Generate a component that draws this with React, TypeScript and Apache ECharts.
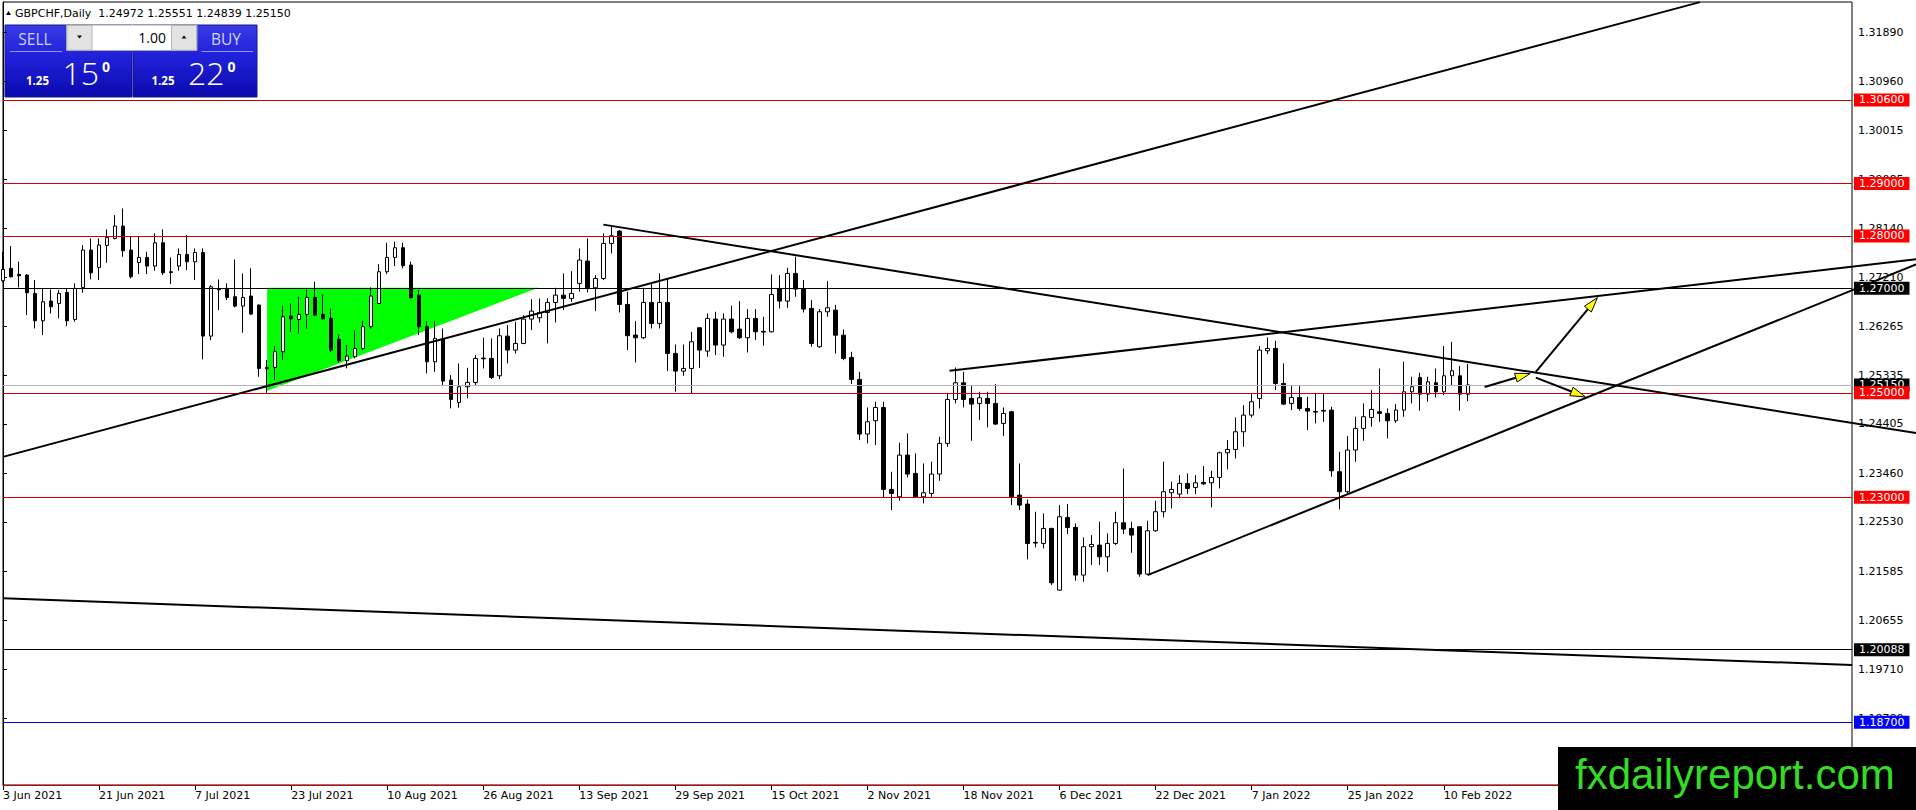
import { useEffect, useRef } from 'react';
import * as echarts from 'echarts';

const SYMBOL = 'GBPCHF,Daily';
const LAST_QUOTE = [1.24972, 1.25551, 1.24839, 1.2515];
const SELL_QUOTE = ['1.25', '15', '0'];
const BUY_QUOTE = ['1.25', '22', '0'];
const LOT = '1.00';

// one label every 12 daily bars, starting with the first bar (3 Jun 2021)
const DATE_LABELS = [
  '3 Jun 2021', '21 Jun 2021', '7 Jul 2021', '23 Jul 2021', '10 Aug 2021', '26 Aug 2021',
  '13 Sep 2021', '29 Sep 2021', '15 Oct 2021', '2 Nov 2021', '18 Nov 2021', '6 Dec 2021',
  '22 Dec 2021', '7 Jan 2022', '25 Jan 2022', '10 Feb 2022',
];
const LABEL_STEP = 12;
const SLOT_COUNT = 232; // bar slots across the chart, empty ones on the right

const PRICE_TICKS = [
  1.3189, 1.3096, 1.30015, 1.29085, 1.2814, 1.2721, 1.26265, 1.25335, 1.24405,
  1.2346, 1.2253, 1.21585, 1.20655, 1.1971, 1.1878,
];
const PRICE_MIN = 1.175;
const PRICE_MAX = 1.32472;

const RED_LEVELS = [1.306, 1.29, 1.28, 1.25, 1.23];
const BLACK_LEVELS = [1.27, 1.20088];
const BLUE_LEVELS = [1.187];
const BID = 1.2515;
const FLOOR_LEVEL = 1.175;

// daily bars: [open, high, low, close]
const OHLC: [number, number, number, number][] = [
  [1.27142, 1.27696, 1.27123, 1.27358], [1.27378, 1.27805, 1.27205, 1.27218], [1.27263, 1.27505, 1.27014, 1.27237],
  [1.2725, 1.27269, 1.26485, 1.26912], [1.269, 1.27154, 1.2623, 1.26377], [1.26377, 1.26995, 1.26103, 1.2674],
  [1.26753, 1.26976, 1.26517, 1.26645], [1.26708, 1.26963, 1.26422, 1.269], [1.26919, 1.26995, 1.26275, 1.26377],
  [1.26402, 1.27091, 1.26358, 1.26995], [1.27014, 1.27824, 1.26912, 1.27728], [1.27728, 1.27951, 1.27167, 1.27295],
  [1.27397, 1.27951, 1.27154, 1.27824], [1.27817, 1.28123, 1.27486, 1.2797], [1.27951, 1.28397, 1.27932, 1.28187],
  [1.28187, 1.28525, 1.27601, 1.27715], [1.27728, 1.27983, 1.27186, 1.27218], [1.27492, 1.27983, 1.27269, 1.27588],
  [1.27588, 1.27696, 1.27269, 1.27422], [1.27422, 1.28047, 1.27333, 1.27868], [1.27868, 1.28123, 1.2725, 1.27295],
  [1.27314, 1.27588, 1.27078, 1.27301], [1.27422, 1.2776, 1.27333, 1.27645], [1.27645, 1.28015, 1.27346, 1.27505],
  [1.27505, 1.2776, 1.27154, 1.27683], [1.27683, 1.2776, 1.25638, 1.26084], [1.26084, 1.27059, 1.26007, 1.27027],
  [1.26982, 1.27167, 1.26581, 1.2697], [1.26995, 1.27091, 1.26772, 1.26823], [1.26836, 1.2755, 1.26632, 1.26657],
  [1.26657, 1.27282, 1.26148, 1.26823], [1.26849, 1.27378, 1.26485, 1.26504], [1.26677, 1.2669, 1.25306, 1.25466],
  [1.25485, 1.25625, 1.25, 1.25459], [1.25485, 1.25893, 1.25243, 1.25784], [1.25784, 1.26657, 1.25625, 1.26453],
  [1.26466, 1.26708, 1.26167, 1.26415], [1.26402, 1.26836, 1.26135, 1.26498], [1.26498, 1.26963, 1.2623, 1.26823],
  [1.26823, 1.27123, 1.26466, 1.26485], [1.26498, 1.26887, 1.26402, 1.26415], [1.26422, 1.26613, 1.25784, 1.25816],
  [1.2602, 1.26122, 1.25574, 1.25612], [1.25612, 1.25912, 1.25466, 1.25701], [1.25689, 1.26186, 1.25657, 1.25848],
  [1.25848, 1.26377, 1.25816, 1.26262], [1.26262, 1.27014, 1.2623, 1.26849], [1.26708, 1.2746, 1.26696, 1.27314],
  [1.27314, 1.27868, 1.27269, 1.27588], [1.27588, 1.27887, 1.27422, 1.27773], [1.27773, 1.27868, 1.27378, 1.27429],
  [1.27441, 1.27505, 1.26804, 1.26816], [1.26867, 1.26963, 1.26103, 1.26262], [1.26262, 1.2637, 1.2537, 1.25593],
  [1.25593, 1.2637, 1.25402, 1.26039], [1.26039, 1.2623, 1.25134, 1.25223], [1.25242, 1.25338, 1.24701, 1.24873],
  [1.24815, 1.25561, 1.24713, 1.25115], [1.25115, 1.25478, 1.24892, 1.25198], [1.25198, 1.2572, 1.25134, 1.25657],
  [1.25663, 1.26052, 1.25465, 1.2565], [1.25657, 1.26039, 1.25262, 1.25293], [1.25325, 1.2623, 1.25262, 1.2609],
  [1.26083, 1.26294, 1.25561, 1.25816], [1.25816, 1.26358, 1.25752, 1.25943], [1.25943, 1.26485, 1.2593, 1.26409],
  [1.26409, 1.26791, 1.26198, 1.26562], [1.26434, 1.26804, 1.26345, 1.26536], [1.26536, 1.26804, 1.25943, 1.26727],
  [1.26727, 1.27008, 1.26345, 1.26867], [1.26867, 1.27282, 1.26581, 1.26804], [1.26804, 1.27326, 1.2674, 1.26899],
  [1.27091, 1.2776, 1.26931, 1.27537], [1.27518, 1.27951, 1.26918, 1.27008], [1.27008, 1.2725, 1.26562, 1.27186],
  [1.27186, 1.28046, 1.27154, 1.27855], [1.27855, 1.28174, 1.27664, 1.28002], [1.28091, 1.2811, 1.26536, 1.26689],
  [1.26689, 1.26931, 1.25816, 1.2609], [1.26103, 1.2637, 1.2558, 1.26052], [1.26052, 1.27008, 1.26026, 1.26727],
  [1.26727, 1.27091, 1.2623, 1.26326], [1.26326, 1.27282, 1.2623, 1.26727], [1.26727, 1.27186, 1.25414, 1.25752],
  [1.25752, 1.25924, 1.25019, 1.25414], [1.25414, 1.25924, 1.25325, 1.25465], [1.25465, 1.26166, 1.24987, 1.25975],
  [1.26243, 1.26256, 1.25478, 1.25816], [1.25797, 1.26517, 1.25688, 1.26421], [1.26409, 1.26549, 1.2572, 1.25912],
  [1.25912, 1.26517, 1.25688, 1.26409], [1.26409, 1.26664, 1.26135, 1.26166], [1.26217, 1.26753, 1.26026, 1.26052],
  [1.26052, 1.266, 1.25771, 1.26421], [1.26421, 1.266, 1.26007, 1.26166], [1.26173, 1.26453, 1.25899, 1.2616],
  [1.26166, 1.27263, 1.26153, 1.2688], [1.26995, 1.2725, 1.26613, 1.26753], [1.26753, 1.2739, 1.26625, 1.27282],
  [1.27282, 1.276, 1.26836, 1.26982], [1.26982, 1.27154, 1.26536, 1.266], [1.26613, 1.26772, 1.2588, 1.25943],
  [1.2588, 1.266, 1.25861, 1.26549], [1.26549, 1.27135, 1.26453, 1.26625], [1.2658, 1.2668, 1.25752, 1.26102],
  [1.26102, 1.2621, 1.25624, 1.25656], [1.25675, 1.25784, 1.25166, 1.25255], [1.25255, 1.25401, 1.24095, 1.2421],
  [1.2421, 1.24719, 1.24031, 1.24445], [1.24465, 1.24828, 1.23999, 1.24719], [1.24719, 1.24828, 1.22999, 1.23152],
  [1.23152, 1.23489, 1.22757, 1.23075], [1.23011, 1.24044, 1.22935, 1.23808], [1.23808, 1.24222, 1.23381, 1.23445],
  [1.23458, 1.2384, 1.2299, 1.23011], [1.23011, 1.23649, 1.22884, 1.23088], [1.23075, 1.23681, 1.23011, 1.23445],
  [1.23445, 1.24159, 1.23317, 1.24031], [1.24031, 1.25, 1.23967, 1.24872], [1.24872, 1.25484, 1.24796, 1.25191],
  [1.25191, 1.25401, 1.24719, 1.24872], [1.24892, 1.25127, 1.24082, 1.24783], [1.24796, 1.25019, 1.24477, 1.24904],
  [1.24892, 1.25019, 1.24337, 1.24796], [1.24796, 1.25166, 1.24382, 1.24401], [1.24414, 1.24719, 1.24171, 1.24605],
  [1.24637, 1.24656, 1.22852, 1.23011], [1.23043, 1.23649, 1.22757, 1.22852], [1.22871, 1.22961, 1.21813, 1.22119],
  [1.22138, 1.22725, 1.22043, 1.22126], [1.22119, 1.22693, 1.22024, 1.22406], [1.22406, 1.22419, 1.21323, 1.21367],
  [1.21227, 1.22852, 1.21214, 1.22629], [1.22616, 1.22871, 1.22298, 1.22425], [1.22425, 1.22502, 1.21405, 1.21514],
  [1.21514, 1.22234, 1.21386, 1.22056], [1.22056, 1.22279, 1.21705, 1.221], [1.22087, 1.22534, 1.21705, 1.21864],
  [1.21864, 1.2231, 1.21578, 1.22119], [1.22119, 1.22725, 1.22087, 1.22514], [1.22514, 1.23553, 1.22298, 1.22393],
  [1.22406, 1.22534, 1.21941, 1.22279], [1.22438, 1.22451, 1.21482, 1.21533], [1.21533, 1.22553, 1.21514, 1.22361],
  [1.22361, 1.22935, 1.22342, 1.22725], [1.22725, 1.23681, 1.22616, 1.23107], [1.23088, 1.23298, 1.22788, 1.23152],
  [1.23063, 1.23426, 1.2298, 1.23266], [1.23266, 1.23458, 1.23063, 1.23171], [1.2319, 1.23426, 1.23063, 1.23279],
  [1.23285, 1.23598, 1.23234, 1.2326], [1.23279, 1.23509, 1.22808, 1.23381], [1.23381, 1.23872, 1.23171, 1.23853],
  [1.23853, 1.24095, 1.23534, 1.23916], [1.23916, 1.24528, 1.23744, 1.24254], [1.24254, 1.24764, 1.23967, 1.24573],
  [1.24573, 1.24987, 1.24528, 1.24828], [1.24892, 1.25892, 1.247, 1.25816], [1.25803, 1.26058, 1.25739, 1.25848],
  [1.25848, 1.25994, 1.25051, 1.25178], [1.25178, 1.25561, 1.24764, 1.24783], [1.24796, 1.25127, 1.24669, 1.24911],
  [1.24911, 1.25127, 1.24656, 1.247], [1.247, 1.24923, 1.24286, 1.24649], [1.24643, 1.25, 1.24414, 1.2463],
  [1.24662, 1.24974, 1.24445, 1.24649], [1.24669, 1.24732, 1.23394, 1.23509], [1.2349, 1.23872, 1.22769, 1.23107],
  [1.23107, 1.24171, 1.23075, 1.23904], [1.23904, 1.24541, 1.23681, 1.24318], [1.24318, 1.24796, 1.24082, 1.24541],
  [1.24528, 1.25051, 1.2435, 1.24681], [1.24637, 1.25465, 1.24445, 1.24605], [1.24605, 1.247, 1.24127, 1.24465],
  [1.24465, 1.24783, 1.24426, 1.24669], [1.24669, 1.25593, 1.24541, 1.25019], [1.25019, 1.25306, 1.24796, 1.25115],
  [1.25293, 1.25382, 1.24656, 1.24974], [1.24974, 1.25306, 1.24828, 1.2521], [1.25191, 1.25465, 1.24911, 1.25019],
  [1.25019, 1.25892, 1.24955, 1.25325], [1.25325, 1.25975, 1.25147, 1.25421], [1.25325, 1.2551, 1.24656, 1.24974],
  [1.24972, 1.25551, 1.24839, 1.2515],
];

// trend lines as [bar1, price1, bar2, price2]
const TREND_LINES: number[][] = [
  [0, 1.23774, 212, 1.3247],
  [0, 1.2107, 231, 1.19794],
  [75, 1.28215, 239, 1.24229],
  [118.25, 1.2542, 239, 1.27554],
  [143, 1.21514, 239, 1.27454],
];
const ARROWS: number[][] = [
  [185.1, 1.2511, 190.8, 1.2537],
  [191.5, 1.254, 199.2, 1.2682],
  [191.5, 1.2529, 197.7, 1.2492],
];
const TRIANGLE: number[][] = [[33, 1.2701], [33, 1.2504], [66.9, 1.2701]];

const FONT = 'DejaVu Sans';
const PANEL_FONT = 'Open Sans';

const isLabelSlot = (i: number) => i % LABEL_STEP === 0 && i / LABEL_STEP < DATE_LABELS.length;

function panelFill() {
  return new echarts.graphic.LinearGradient(0, 0, 0, 1, [
    { offset: 0, color: '#3a3ae4' },
    { offset: 0.4, color: '#2222dc' },
    { offset: 1, color: '#0a0aae' },
  ]);
}

function quoteTexts(x: number, quote: string[]) {
  return [
    { type: 'text', x, y: 80, style: { text: quote[0], fill: '#fff', fontFamily: PANEL_FONT, fontSize: 11.5, fontWeight: 'bold', verticalAlign: 'middle' } },
    { type: 'text', x: x + 36.5, y: 72.8, style: { text: quote[1], fill: '#fff', fontFamily: PANEL_FONT, fontSize: 32, fontWeight: 300, verticalAlign: 'middle' } },
    { type: 'text', x: x + 76, y: 66.4, style: { text: quote[2], fill: '#fff', fontFamily: PANEL_FONT, fontSize: 14, fontWeight: 'bold', verticalAlign: 'middle' } },
  ];
}

function levelLine(value: number, lineColor: string, boxColor: string | null) {
  return {
    yAxis: value,
    lineStyle: { color: lineColor, width: 1, type: 'solid' },
    label: boxColor
      ? { show: true, backgroundColor: boxColor }
      : { show: false },
  };
}

export default function App() {
  const chartRef = useRef<HTMLDivElement>(null);

  useEffect(() => {
    if (!chartRef.current) return;
    const chart = echarts.init(chartRef.current, undefined, { renderer: 'svg' });

    const slots = Array.from({ length: SLOT_COUNT }, (_, i) => String(i));
    const candles = OHLC.map(([o, h, l, c]) => [o, c, l, h]);
    const header = `${SYMBOL}  ${LAST_QUOTE.map((v) => v.toFixed(5)).join(' ')}`;

    chart.setOption({
      animation: false,
      backgroundColor: '#fff',
      grid: { left: 2, right: 64, top: 2, bottom: 25, show: true, borderColor: '#000', borderWidth: 1, backgroundColor: '#fff' },
      xAxis: [
        {
          type: 'category',
          data: slots,
          boundaryGap: false,
          axisLine: { lineStyle: { color: '#000', width: 1 } },
          axisTick: { interval: isLabelSlot, length: 5, lineStyle: { color: '#000' } },
          axisLabel: {
            interval: isLabelSlot,
            formatter: (_v: string, i: number) => DATE_LABELS[i / LABEL_STEP] ?? '',
            align: 'left',
            margin: 5,
            color: '#000',
            fontFamily: FONT,
            fontSize: 11,
          },
          splitLine: { show: false },
        },
        { type: 'value', min: 0, max: SLOT_COUNT - 1, show: false },
      ],
      yAxis: {
        type: 'value',
        position: 'right',
        min: PRICE_MIN,
        max: PRICE_MAX,
        axisLine: { show: true, lineStyle: { color: '#000', width: 1 } },
        axisTick: { show: true, length: 4, customValues: PRICE_TICKS, lineStyle: { color: '#000' } },
        axisLabel: {
          customValues: PRICE_TICKS,
          formatter: (v: number) => v.toFixed(5),
          margin: 6,
          color: '#000',
          fontFamily: FONT,
          fontSize: 11,
        },
        splitLine: { show: false },
      },
      series: [
        {
          type: 'custom',
          xAxisIndex: 1,
          z: 1,
          silent: true,
          data: [TRIANGLE.flat()],
          renderItem: (_p: any, api: any) => ({
            type: 'polygon',
            shape: { points: [0, 2, 4].map((k) => api.coord([api.value(k), api.value(k + 1)])) },
            style: { fill: '#00ff00' },
          }),
        },
        {
          type: 'candlestick',
          data: candles,
          barWidth: 4,
          z: 2,
          silent: true,
          itemStyle: { color: '#fff', color0: '#000', borderColor: '#000', borderColor0: '#000', borderWidth: 1 },
          markLine: {
            silent: true,
            symbol: ['none', 'none'],
            precision: 5,
            animation: false,
            label: {
              position: 'end',
              distance: 2,
              formatter: (p: any) => Number(p.value).toFixed(5),
              color: '#fff',
              fontFamily: FONT,
              fontSize: 11,
              lineHeight: 11,
              padding: [1, 5, 1, 5],
            },
            data: [
              levelLine(BID, '#b4b4b4', '#000'),
              levelLine(FLOOR_LEVEL, '#d00000', null),
              ...BLACK_LEVELS.map((v) => levelLine(v, '#000', '#000')),
              ...RED_LEVELS.map((v) => levelLine(v, '#d00000', '#ff0000')),
              ...BLUE_LEVELS.map((v) => levelLine(v, '#0000d0', '#0000ff')),
            ],
          },
        },
        {
          type: 'custom',
          xAxisIndex: 1,
          z: 6,
          silent: true,
          clip: false,
          data: TREND_LINES,
          renderItem: (_p: any, api: any) => {
            const a = api.coord([api.value(0), api.value(1)]);
            const b = api.coord([api.value(2), api.value(3)]);
            return { type: 'line', shape: { x1: a[0], y1: a[1], x2: b[0], y2: b[1] }, style: { stroke: '#000', lineWidth: 2 } };
          },
        },
        {
          type: 'custom',
          xAxisIndex: 1,
          z: 7,
          silent: true,
          clip: false,
          data: ARROWS,
          renderItem: (_p: any, api: any) => {
            const a = api.coord([api.value(0), api.value(1)]);
            const b = api.coord([api.value(2), api.value(3)]);
            const dx = b[0] - a[0];
            const dy = b[1] - a[1];
            const len = Math.sqrt(dx * dx + dy * dy) || 1;
            const ux = dx / len;
            const uy = dy / len;
            const bx = b[0] - ux * 15;
            const by = b[1] - uy * 15;
            return {
              type: 'group',
              children: [
                { type: 'line', shape: { x1: a[0], y1: a[1], x2: bx, y2: by }, style: { stroke: '#000', lineWidth: 2 } },
                {
                  type: 'polygon',
                  shape: { points: [[b[0], b[1]], [bx - uy * 4.5, by + ux * 4.5], [bx + uy * 4.5, by - ux * 4.5]] },
                  style: { fill: '#ffff00', stroke: '#000', lineWidth: 1 },
                },
              ],
            };
          },
        },
      ],
      graphic: {
        elements: [
          { type: 'polygon', z: 50, shape: { points: [[6, 15], [8.5, 11], [11, 15]] }, style: { fill: '#000' } },
          { type: 'text', z: 50, x: 15, y: 13.5, style: { text: header, fill: '#000', fontFamily: FONT, fontSize: 11, verticalAlign: 'middle' } },
          {
            type: 'group',
            z: 50,
            children: [
              { type: 'rect', shape: { x: 5, y: 25, width: 127, height: 72 }, style: { fill: panelFill(), stroke: '#18188c', lineWidth: 1 } },
              { type: 'rect', shape: { x: 133, y: 25, width: 124, height: 72 }, style: { fill: panelFill(), stroke: '#18188c', lineWidth: 1 } },
              { type: 'rect', shape: { x: 66.5, y: 25, width: 130.5, height: 25.5 }, style: { fill: '#fff', stroke: '#a8a8a8', lineWidth: 1 } },
              { type: 'rect', shape: { x: 67, y: 25.5, width: 25, height: 24.5 }, style: { fill: '#e3e3e3', stroke: '#b4b4b4', lineWidth: 1 } },
              { type: 'rect', shape: { x: 171.5, y: 25.5, width: 25, height: 24.5 }, style: { fill: '#e3e3e3', stroke: '#b4b4b4', lineWidth: 1 } },
              { type: 'polygon', shape: { points: [[77, 35.5], [82, 35.5], [79.5, 38.5]] }, style: { fill: '#000' } },
              { type: 'polygon', shape: { points: [[181.5, 38.5], [186.5, 38.5], [184, 35.5]] }, style: { fill: '#000' } },
              { type: 'text', x: 166, y: 37.5, style: { text: LOT, fill: '#000', fontFamily: PANEL_FONT, fontSize: 14, align: 'right', verticalAlign: 'middle' } },
              { type: 'text', x: 35, y: 38.5, style: { text: 'SELL', fill: '#cdd3ff', fontFamily: PANEL_FONT, fontSize: 15.5, align: 'center', verticalAlign: 'middle' } },
              { type: 'text', x: 226, y: 38.5, style: { text: 'BUY', fill: '#cdd3ff', fontFamily: PANEL_FONT, fontSize: 15.5, align: 'center', verticalAlign: 'middle' } },
              { type: 'line', shape: { x1: 10, y1: 51.5, x2: 62, y2: 51.5 }, style: { stroke: '#8f95ee', lineWidth: 1 } },
              { type: 'line', shape: { x1: 201.5, y1: 51.5, x2: 253, y2: 51.5 }, style: { stroke: '#8f95ee', lineWidth: 1 } },
              ...quoteTexts(26, SELL_QUOTE),
              ...quoteTexts(151.5, BUY_QUOTE),
            ],
          },
          { type: 'rect', z: 100, shape: { x: 1558, y: 747, width: 358, height: 63 }, style: { fill: '#000' } },
          {
            type: 'text',
            z: 101,
            x: 1575,
            y: 774,
            style: { text: 'fxdailyreport.com', fill: '#35dc24', fontFamily: 'Liberation Sans', fontSize: 42, verticalAlign: 'middle' },
          },
        ],
      },
    });

    return () => chart.dispose();
  }, []);

  return (
    <div
      ref={chartRef}
      style={{ position: 'fixed', left: 0, top: 0, width: 1916, height: 810, background: '#fff' }}
    />
  );
}
